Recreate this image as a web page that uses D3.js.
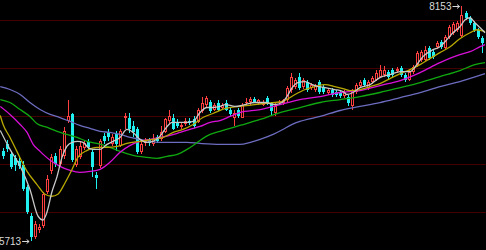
<!DOCTYPE html>
<html><head><meta charset="utf-8">
<script src="https://cdn.jsdelivr.net/npm/d3@7/dist/d3.min.js"></script>
<style>html,body{margin:0;padding:0;background:#000;overflow:hidden}</style>
</head><body><svg id="c" width="486" height="250"></svg>
<script>
const open=[6640,6713,6609,6568,6537,6495,6267,5967,5749,5822,
5863,6215,6433,6589,6506,6589,6951,7024,6495,6578,
6671,6734,6630,6392,6485,6796,6837,6713,6816,6692,
6982,6992,6899,6868,6630,6723,6754,6713,6785,6765,
6837,6951,6992,6941,6889,6920,6961,6972,6941,7055,
7117,7158,7075,7148,7096,7148,7075,6982,7075,6992,
7138,7158,7189,7138,7127,7200,7138,7034,7138,7138,
7169,7283,7314,7417,7314,7366,7303,7283,7366,7314,
7252,7283,7262,7262,7220,7210,7107,7262,7324,7386,
7303,7366,7386,7417,7438,7469,7490,7479,7510,7438,
7386,7469,7542,7593,7593,7718,7676,7728,7780,7718,
7832,7873,7904,7842,8080,8029,7977,7904,7821];
const high=[6671,6754,6640,6599,6578,6537,6288,5998,5915,5884,
6215,6392,6609,6620,6692,6889,7169,7044,6692,6744,
6754,6765,6661,6423,6765,6827,6868,6816,6848,6868,
7044,7044,6951,6889,6734,6775,6775,6816,6806,6899,
6992,7075,7024,6972,6930,6992,6992,7003,7096,7210,
7220,7179,7148,7169,7148,7169,7096,7075,7096,7148,
7200,7210,7210,7189,7179,7220,7158,7138,7179,7189,
7324,7459,7407,7459,7407,7386,7355,7345,7386,7334,
7303,7303,7283,7283,7283,7231,7293,7355,7386,7407,
7386,7428,7490,7542,7531,7490,7510,7521,7531,7459,
7490,7542,7687,7697,7738,7738,7697,7790,7801,7852,
7956,7987,7997,8153,8101,8049,7997,7925,7842];
const low=[6557,6630,6454,6433,6454,6226,5988,5713,5729,5791,
5843,6195,6402,6474,6485,6557,6930,6526,6474,6557,
6651,6661,6371,6247,6464,6713,6744,6692,6640,6682,
6868,6827,6785,6609,6609,6692,6692,6692,6723,6744,
6827,6920,6858,6879,6868,6899,6910,6879,6930,7034,
7096,7034,7055,7055,7075,7055,7003,6899,6992,6982,
7107,7127,7138,7117,7107,7127,7003,7013,7117,7117,
7158,7252,7293,7283,7293,7262,7283,7262,7241,7241,
7231,7210,7210,7200,7200,7107,7075,7241,7303,7314,
7283,7345,7376,7407,7417,7397,7417,7459,7417,7366,
7376,7448,7521,7573,7583,7593,7604,7707,7707,7697,
7811,7852,7884,7821,8008,7956,7884,7811,7666];
const close=[6589,6661,6474,6495,6485,6247,6008,5749,5884,5853,
6195,6350,6578,6506,6661,6848,7003,6547,6661,6692,
6723,6682,6474,6361,6744,6744,6785,6785,6713,6848,
7003,6868,6837,6630,6713,6744,6723,6765,6744,6837,
6972,7003,6868,6899,6910,6951,6930,6899,7075,7148,
7200,7055,7117,7075,7127,7075,7024,7034,7013,7127,
7158,7189,7158,7169,7158,7148,7055,7107,7158,7169,
7303,7417,7386,7303,7386,7283,7334,7324,7262,7262,
7283,7231,7231,7220,7262,7148,7272,7334,7366,7334,
7366,7407,7459,7490,7490,7417,7438,7500,7438,7386,
7469,7521,7666,7676,7697,7614,7625,7770,7728,7832,
7935,7966,7977,8060,8029,7977,7904,7832,7770];

// moving averages: [candle index, value]
const ma5=[[-0.6,6858],[1.8,6661],[4.3,6485],[6.7,6247],[8.7,5967],[9.9,5926],[10.9,6008],[12.1,6215],[13.4,6381],[14.6,6578],[15.8,6692],[17.1,6734],[18.5,6744],[19.8,6734],[21,6682],[22.2,6661],[24,6661],[25.7,6713],[27.2,6744],[28.9,6785],[30.6,6868],[32.1,6837],[33.8,6765],[35.5,6734],[37,6744],[38.7,6796],[40.5,6899],[41.7,6941],[43.2,6941],[45.4,6941],[46.9,6951],[48.6,7044],[50.3,7096],[51.8,7096],[53.5,7107],[54.8,7127],[57.2,7107],[59.7,7127],[62.1,7148],[64.6,7148],[67.1,7127],[68.8,7148],[70,7210],[71.3,7303],[72.7,7355],[74.5,7366],[76.2,7334],[77.7,7314],[79.4,7303],[81.8,7283],[83.8,7262],[84.8,7231],[86.3,7252],[88,7303],[90.5,7334],[92.9,7407],[95.4,7438],[97.9,7469],[100.3,7469],[102,7542],[103.5,7625],[106,7697],[107.7,7728],[109.4,7801],[110.9,7873],[112.6,7935],[113.9,8008],[115.1,8029],[116.3,7977],[117.6,7925],[118.8,7873]];
const ma10=[[-0.6,7013],[0.1,6920],[1.8,6785],[3.5,6640],[6,6433],[8.4,6298],[10.4,6195],[12.1,6174],[13.6,6195],[15.3,6309],[17.1,6454],[18.5,6578],[20.8,6651],[23.2,6682],[25.7,6682],[28.2,6692],[30.6,6723],[33.8,6744],[37,6765],[39.5,6785],[42,6837],[44.4,6868],[46.9,6920],[49.3,6992],[51.8,7034],[54.8,7086],[58.4,7107],[62.1,7127],[64.6,7138],[67.1,7148],[69.5,7169],[72,7231],[74.5,7283],[76.9,7314],[79.4,7334],[81.8,7314],[83.8,7293],[85.5,7272],[88,7283],[90.5,7314],[92.9,7345],[95.4,7397],[97.9,7448],[100.3,7490],[102.8,7542],[105.2,7604],[107.7,7666],[110.2,7728],[112.6,7811],[115.1,7873],[116.8,7904],[118.8,7884]];
const ma20=[[-0.6,7107],[1.8,7024],[4.3,6920],[6,6837],[7.5,6713],[9.2,6640],[11.7,6547],[14.1,6485],[16.6,6443],[19,6423],[21.5,6433],[24,6454],[26.4,6526],[28.9,6630],[31.4,6702],[33.8,6744],[36.3,6765],[38.7,6785],[41.2,6806],[43.7,6837],[46.1,6868],[48.6,6899],[51.1,6941],[53.5,6961],[56,7003],[58.4,7044],[63.4,7075],[68.3,7127],[73.2,7179],[78.2,7210],[83.1,7252],[88,7272],[92.9,7324],[97.9,7376],[102.8,7459],[107.7,7562],[112.6,7645],[115.1,7676],[117.6,7728],[118.8,7749]];
const ma40=[[-0.6,7179],[1.8,7148],[4.3,7075],[6.7,7003],[8.4,6930],[11,6889],[13.4,6848],[15.8,6816],[18.3,6785],[20.8,6744],[23.2,6723],[25.7,6692],[28.9,6640],[32.1,6599],[35.5,6578],[38,6568],[40.5,6589],[43,6609],[45.4,6661],[46.9,6702],[48.6,6754],[51.1,6816],[53.5,6848],[56,6879],[58.4,6910],[63.4,6972],[68.3,7044],[73.2,7096],[78.2,7148],[83.1,7179],[88,7210],[92.9,7252],[97.9,7303],[102.8,7355],[107.7,7417],[112.6,7479],[116.3,7542],[118.8,7562]];
const ma60=[[-0.6,7314],[1.8,7283],[4.3,7231],[6.7,7148],[9.2,7075],[11.7,7024],[14.1,6992],[16.6,6951],[19,6910],[21.5,6879],[24,6848],[26.4,6837],[28.9,6816],[31.4,6785],[33.8,6765],[36.3,6744],[38.7,6734],[42,6734],[45.4,6734],[48.6,6723],[53.5,6713],[58.4,6713],[61,6734],[63.4,6765],[66.6,6816],[69,6868],[71.3,6920],[73.2,6951],[78.2,7003],[83.1,7065],[88,7107],[92.9,7148],[97.9,7200],[102.8,7252],[107.7,7314],[112.6,7366],[118.8,7448]];
const gridValues=[8000,7500,7000,6500,6000];

const W=486,H=250;
const svg=d3.select('#c');
svg.append('rect').attr('width',W).attr('height',H).attr('fill','#000');
const x=d3.scaleLinear().domain([0,open.length-1]).range([2.7,481.8]);
const y=d3.scaleLinear().domain([5713,8153]).range([240.6,5.8]);

svg.append('g').selectAll('line').data(gridValues).join('line')
  .attr('x1',0).attr('x2',W)
  .attr('y1',d=>Math.floor(y(d))+0.5).attr('y2',d=>Math.floor(y(d))+0.5)
  .attr('stroke','#440000').attr('stroke-width',1);

const idx=d3.range(open.length);
const g=svg.append('g');
idx.forEach(i=>{
  const cx=Math.round(x(i));
  const up=close[i]>=open[i];
  const yt=Math.round(y(Math.max(open[i],close[i])));
  const yb=Math.round(y(Math.min(open[i],close[i])));
  const yh=Math.round(y(high[i])), yl=Math.round(y(low[i]));
  if(up){
    const col='#ff4040';
    g.append('line').attr('x1',cx+0.5).attr('x2',cx+0.5).attr('y1',yh).attr('y2',yt).attr('stroke',col);
    g.append('line').attr('x1',cx+0.5).attr('x2',cx+0.5).attr('y1',yb).attr('y2',yl).attr('stroke',col);
    if(yb-yt>=2){
      g.append('rect').attr('x',cx-0.5).attr('y',yt+0.5).attr('width',2).attr('height',yb-yt-1)
        .attr('fill','#000').attr('stroke',col).attr('stroke-width',1);
    } else {
      g.append('rect').attr('x',cx-1).attr('y',yt).attr('width',3).attr('height',Math.max(1,yb-yt)).attr('fill',col);
    }
  } else {
    const col='#20f0f0';
    g.append('line').attr('x1',cx+0.5).attr('x2',cx+0.5).attr('y1',yh).attr('y2',yl).attr('stroke',col);
    g.append('rect').attr('x',cx-1).attr('y',yt).attr('width',3).attr('height',Math.max(1,yb-yt)).attr('fill',col);
  }
});

const line=d3.line().x(d=>x(d[0])).y(d=>y(d[1])).curve(d3.curveMonotoneX);
const mas=[[ma60,'#6c6cc0'],[ma40,'#10a810'],[ma20,'#d810d8'],[ma10,'#b8a800'],[ma5,'#c8c8c8']];
svg.append('g').selectAll('path').data(mas).join('path')
  .attr('d',d=>line(d[0])).attr('fill','none').attr('stroke',d=>d[1]).attr('stroke-width',1.3);

// extreme labels
const hi=d3.maxIndex(high), lo=d3.minIndex(low);
function label(i,v){
  const tx=x(i)-2, ty=Math.round(y(v))+0.5, sx=tx-7;
  svg.append('path').attr('d',`M${sx},${ty}H${tx}M${tx-2.5},${ty-2}L${tx},${ty}L${tx-2.5},${ty+2}`)
    .attr('fill','none').attr('stroke','#d8d8d8').attr('stroke-width',1);
  svg.append('text').attr('x',sx-1).attr('y',ty+3.8).attr('text-anchor','end')
    .attr('font-family','Liberation Sans, Arial, sans-serif').attr('font-size',10)
    .attr('fill','#d8d8d8').text(v);
}
label(hi,high[hi]);
label(lo,low[lo]);
</script></body></html>
